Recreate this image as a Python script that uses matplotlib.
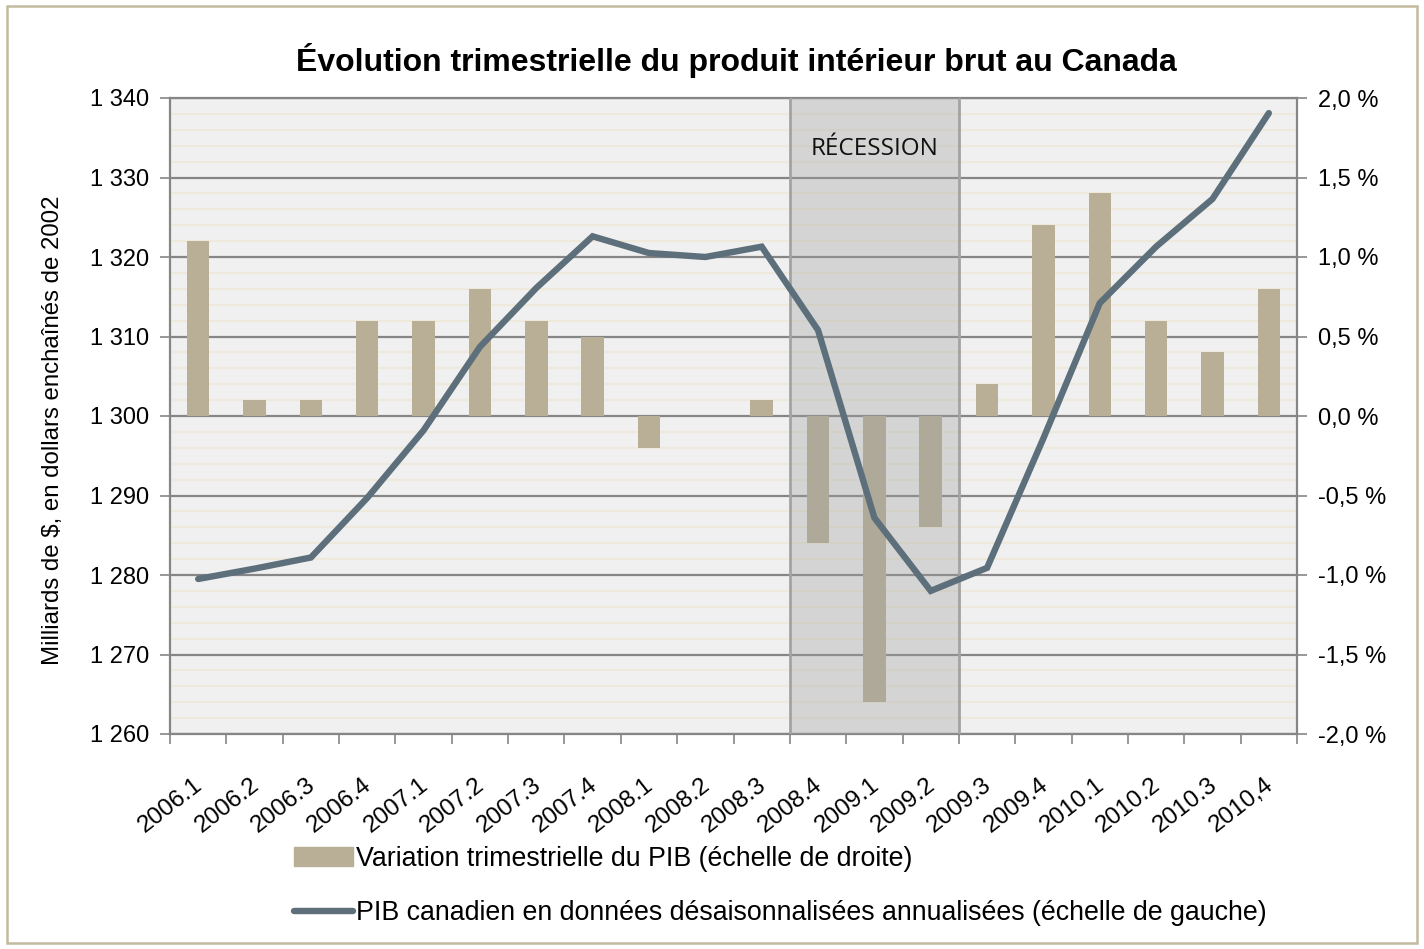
import numpy as np
import matplotlib
matplotlib.use("Agg")
import matplotlib.pyplot as plt
from matplotlib.patches import Rectangle, Patch
from matplotlib.lines import Line2D
from matplotlib.ticker import FuncFormatter, MultipleLocator, FixedLocator
import matplotlib.transforms as mtransforms

quarters = ["2006.1", "2006.2", "2006.3", "2006.4", "2007.1", "2007.2", "2007.3", "2007.4",
            "2008.1", "2008.2", "2008.3", "2008.4", "2009.1", "2009.2", "2009.3", "2009.4",
            "2010.1", "2010.2", "2010.3", "2010,4"]
variation_pct = [1.1, 0.1, 0.1, 0.6, 0.6, 0.8, 0.6, 0.5,
                 -0.2, 0.0, 0.1, -0.8, -1.8, -0.7, 0.2, 1.2,
                 1.4, 0.6, 0.4, 0.8]
pib = [1279.5, 1280.8, 1282.2, 1289.7, 1298.2, 1308.7, 1316.1, 1322.6,
       1320.5, 1320.0, 1321.3, 1310.8, 1287.2, 1278.0, 1280.9, 1297.2,
       1314.2, 1321.3, 1327.3, 1338.1]
recession = ("2008.4", "2009.2")

label_bar = "Variation trimestrielle du PIB (échelle de droite)"
label_line = "PIB canadien en données désaisonnalisées annualisées (échelle de gauche)"
title = "Évolution trimestrielle du produit intérieur brut au Canada"

plt.rcParams['font.family'] = ['Liberation Sans', 'DejaVu Sans']

W, H = 1424, 949
fig = plt.figure(figsize=(W / 100, H / 100), dpi=100)
fig.patch.set_facecolor("white")

L, R, T, B = 170, 1297, 98, 734
ax = fig.add_axes([L / W, 1 - B / H, (R - L) / W, (B - T) / H])
ax.set_facecolor("#F0F0F0")

x = np.arange(len(quarters))
ax.set_xlim(-0.5, len(quarters) - 0.5)

# bars on the right scale
ax.bar(x, variation_pct, width=0.40, color="#B8AF96", edgecolor="none",
       linewidth=0, zorder=3)
ax.set_ylim(-2.0, 2.0)
ax.yaxis.set_major_locator(MultipleLocator(0.5))
ax.yaxis.set_minor_locator(MultipleLocator(0.1))
ax.yaxis.set_major_formatter(FuncFormatter(lambda v, p: f"{v:.1f}".replace(".", ",") + " %"))
ax.grid(which="major", axis="y", color="#868686", linewidth=1.6, zorder=1)
ax.grid(which="minor", axis="y", color="#EEE9DB", linewidth=1.5, zorder=0.5)
ax.set_axisbelow(True)

# recession band (between category boundaries)
r0 = quarters.index(recession[0]) - 0.5
r1 = quarters.index(recession[1]) + 0.5
ax.axvspan(r0, r1, facecolor="#A0A0A0", alpha=0.34, edgecolor="none", zorder=4)
for xb in (r0, r1):
    ax.axvline(xb, color="#A3A3A3", linewidth=2.0, zorder=4.5)
ax.text((r0 + r1) / 2, 1.68, "RÉCESSION", ha="center", va="center",
        fontsize=17.5, family=["Open Sans", "DejaVu Sans"], color="#111111", zorder=6)

# x axis: ticks at category boundaries, labels at centres
ax.xaxis.set_major_locator(FixedLocator(x))
ax.set_xticklabels(quarters)
ax.xaxis.set_minor_locator(FixedLocator(np.arange(-0.5, len(quarters), 1.0)))
ax.tick_params(axis="x", which="major", length=0, labelsize=17.5, pad=35)
ax.tick_params(axis="x", which="minor", direction="out", length=7, width=1.2, color="#868686")
offset = mtransforms.ScaledTranslation(2 / 100, 0, fig.dpi_scale_trans)
for lab in ax.get_xticklabels():
    lab.set_rotation(38)
    lab.set_ha("right")
    lab.set_va("center")
    lab.set_rotation_mode("anchor")
    lab.set_transform(lab.get_transform() + offset)

for s in ax.spines.values():
    s.set_color("#868686")
    s.set_linewidth(1.6)

# line on the left scale
ax2 = ax.twinx()
ax2.plot(x, pib, color="#5C6F7B", linewidth=4.6, solid_capstyle="round",
         solid_joinstyle="miter", zorder=5)
ax2.set_ylim(1260, 1340)
ax2.yaxis.set_major_locator(MultipleLocator(10))
ax2.yaxis.set_major_formatter(FuncFormatter(lambda v, p: f"{int(v):,}".replace(",", " ")))
for s in ax2.spines.values():
    s.set_visible(False)

# put scales on the right sides (twinx swaps them)
ax.yaxis.tick_right()
ax.yaxis.set_label_position("right")
ax.tick_params(axis="y", which="major", direction="out", length=7, width=1.2,
               color="#868686", labelsize=17, pad=8, right=True, left=False,
               labelright=True, labelleft=False)
ax.tick_params(axis="y", which="minor", length=0)
ax2.yaxis.tick_left()
ax2.yaxis.set_label_position("left")
ax2.tick_params(axis="y", direction="out", length=7, width=1.2, color="#868686",
                labelsize=17, pad=8, left=True, right=False,
                labelleft=True, labelright=False)
ax2.set_ylabel("Milliards de $, en dollars enchaînés de 2002", fontsize=17.3)
ax2.yaxis.set_label_coords((64 - L) / (R - L), (B - 430) / (B - T))

fig.text(736 / W, 1 - 60 / H, title, ha="center", va="center",
         fontsize=23, fontweight="bold")

handles = [Patch(facecolor="#B8AF96", edgecolor="#B8AF96"),
           Line2D([0], [0], color="#5C6F7B", linewidth=4.6, solid_capstyle="round")]
fig.legend(handles, [label_bar, label_line], loc="upper left",
           bbox_to_anchor=(294 / W, 1 - 846 / H), frameon=False,
           fontsize=19.3, handlelength=2.2, handletextpad=0.12, labelspacing=1.05,
           borderpad=0, borderaxespad=0)

fig.add_artist(Rectangle((7 / W, 6 / H), (1417 - 7) / W, (943 - 6) / H,
                         transform=fig.transFigure, fill=False,
                         edgecolor="#C3BA9F", linewidth=1.8))

fig.savefig("out.png", dpi=100)
